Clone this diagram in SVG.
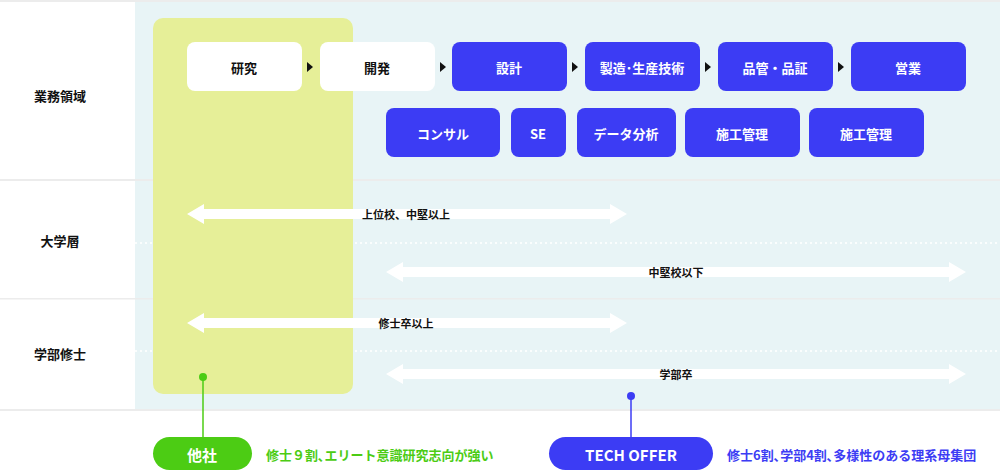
<svg xmlns="http://www.w3.org/2000/svg" width="1000" height="471" viewBox="0 0 1000 471">
<style>
text{font-family:"Noto Sans CJK JP","Noto Sans",sans-serif;font-weight:700;text-anchor:middle;dominant-baseline:central}
.w{fill:#fff}.b{fill:#3c3cf4}.lab{font-size:13px;fill:#111}.bt{font-size:13px;fill:#fff}.wt{font-size:13px;fill:#111}
.al{font-size:11px;fill:#111}
.dash{stroke:#fff;stroke-width:1.5;stroke-dasharray:2 3}
</style>
<defs>
<marker id="tri" markerWidth="6" markerHeight="8" refX="0" refY="4" orient="auto"><path d="M0,0L6,4L0,8Z" fill="#111"/></marker>
</defs>
<rect width="1000" height="471" fill="#fff"/>
<rect x="0" y="0" width="1000" height="2" fill="#ececec"/>
<rect x="135" y="2" width="865" height="408" fill="#e8f4f6"/>
<rect x="0" y="179" width="1000" height="2" fill="#ececec"/>
<rect x="0" y="298" width="1000" height="1.5" fill="#ececec"/>
<rect x="0" y="409" width="1000" height="2" fill="#ececec"/>
<line class="dash" x1="135" y1="243" x2="1000" y2="243"/>
<line class="dash" x1="135" y1="351" x2="1000" y2="351"/>
<rect id="other-panel" x="153" y="18" width="200" height="376" rx="10" fill="#e6ef98"/>
<g id="row-labels">
<text class="lab" x="60" y="95">業務領域</text>
<text class="lab" x="60" y="240">大学層</text>
<text class="lab" x="60" y="353">学部修士</text>
</g>
<g id="n-kenkyu"><rect class="w" x="187" y="42" width="115" height="49" rx="8"/><text class="wt" x="244" y="67">研究</text></g>
<g id="n-kaihatsu"><rect class="w" x="320" y="42" width="115" height="49" rx="8"/><text class="wt" x="377" y="67">開発</text></g>
<g id="n-sekkei"><rect class="b" x="452" y="42" width="115" height="49" rx="8"/><text class="bt" x="509" y="67">設計</text></g>
<g id="n-seizo"><rect class="b" x="585" y="42" width="115" height="49" rx="8"/><text class="bt" x="642" y="67">製造･生産技術</text></g>
<g id="n-hinkan"><rect class="b" x="718" y="42" width="115" height="49" rx="8"/><text class="bt" x="775" y="67">品管・品証</text></g>
<g id="n-eigyo"><rect class="b" x="851" y="42" width="115" height="49" rx="8"/><text class="bt" x="908" y="67">営業</text></g>
<g id="n-consul"><rect class="b" x="386" y="108" width="114" height="49" rx="8"/><text class="bt" x="443" y="133">コンサル</text></g>
<g id="n-se"><rect class="b" x="511" y="108" width="55" height="49" rx="8"/><text class="bt" x="538" y="133">SE</text></g>
<g id="n-data"><rect class="b" x="577" y="108" width="99" height="49" rx="8"/><text class="bt" x="626" y="133">データ分析</text></g>
<g id="n-seko1"><rect class="b" x="685" y="108" width="115" height="49" rx="8"/><text class="bt" x="742" y="133">施工管理</text></g>
<g id="n-seko2"><rect class="b" x="809" y="108" width="115" height="49" rx="8"/><text class="bt" x="866" y="133">施工管理</text></g>
<g id="connectors">
<path d="M307,62L313,67L307,72Z" fill="#111"/>
<path d="M440,62L446,67L440,72Z" fill="#111"/>
<path d="M572,62L578,67L572,72Z" fill="#111"/>
<path d="M705,62L711,67L705,72Z" fill="#111"/>
<path d="M838,62L844,67L838,72Z" fill="#111"/>
<g fill="#fff">
<path d="M187,214L204,204V209H610V204L627,214L610,224V219H204V224Z"/>
<path d="M386,272L403,262V267H949V262L966,272L949,282V277H403V282Z"/>
<path d="M187,323L204,313V318H610V313L627,323L610,333V328H204V333Z"/>
<path d="M386,374L403,364V369H949V364L966,374L949,384V379H403V384Z"/>
</g>
<line x1="203" y1="376" x2="203" y2="440" stroke="#4ccc14" stroke-width="1.5"/>
<circle cx="203" cy="377" r="4" fill="#4ccc14"/>
<line x1="631" y1="396" x2="631" y2="440" stroke="#3c3cf4" stroke-width="1.5"/>
<circle cx="631" cy="396" r="4" fill="#3c3cf4"/>
</g>
<g id="arrow-labels">
<text class="al" x="406" y="214">上位校、中堅以上</text>
<text class="al" x="676" y="272">中堅校以下</text>
<text class="al" x="406" y="323">修士卒以上</text>
<text class="al" x="676" y="374">学部卒</text>
</g>
<g id="n-tasha"><rect x="153" y="437" width="99" height="33" rx="16.5" fill="#4ccc14"/><text x="202" y="454" style="font-size:15px;fill:#fff">他社</text>
<text x="266" y="454" style="font-size:13px;fill:#4ccc14;text-anchor:start">修士９割､エリート意識研究志向が強い</text></g>
<g id="n-tech"><rect x="549" y="437" width="164" height="33" rx="16.5" fill="#3c3cf4"/><text x="631" y="454" style="font-size:15px;fill:#fff">TECH OFFER</text>
<text x="727" y="454" style="font-size:13px;fill:#3c3cf4;text-anchor:start">修士6割､学部4割､多様性のある理系母集団</text></g>
</svg>
